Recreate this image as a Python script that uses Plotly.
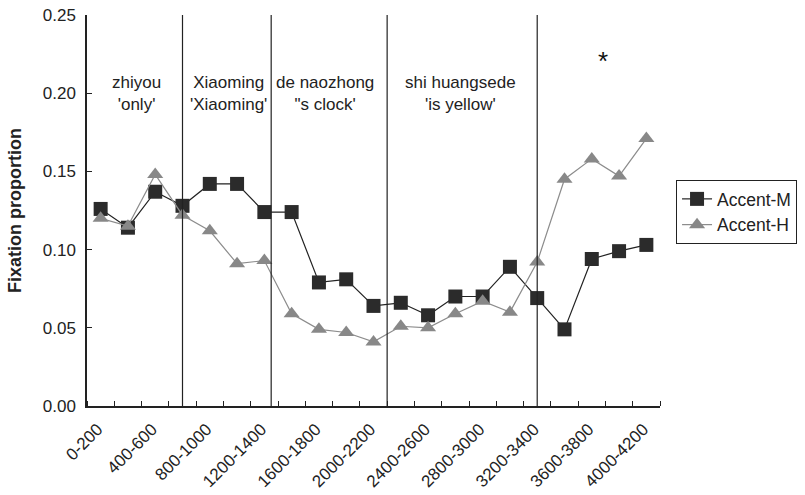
import plotly.graph_objects as go

categories = [f"{i*200}-{i*200+200}" for i in range(21)]
accent_m = [0.126, 0.114, 0.137, 0.128, 0.142, 0.142, 0.124, 0.124, 0.079, 0.081,
            0.064, 0.066, 0.058, 0.070, 0.070, 0.089, 0.069, 0.049, 0.094, 0.099, 0.103]
accent_h = [0.120, 0.115, 0.148, 0.122, 0.112, 0.091, 0.093, 0.059, 0.049, 0.047,
            0.041, 0.051, 0.050, 0.059, 0.067, 0.060, 0.092, 0.145, 0.158, 0.147, 0.171]
region_lines = [3, 6.25, 10.5, 16]
region_labels = ["zhiyou<br>'only'", "Xiaoming<br>'Xiaoming'", "de naozhong<br>\"s clock'",
                 "shi huangsede<br>'is yellow'"]
region_label_x = [1.33, 4.67, 8.22, 13.17]
y_ticks = [0.00, 0.05, 0.10, 0.15, 0.20, 0.25]

FONT = "Liberation Sans, Arial, sans-serif"
FS = 17
xs = list(range(len(categories)))

fig = go.Figure()
fig.add_trace(go.Scatter(
    x=xs, y=accent_m, name="Accent-M", mode="lines+markers",
    line=dict(color="#222222", width=1.2),
    marker=dict(symbol="square", size=14, color="#2b2b2b"),
))
fig.add_trace(go.Scatter(
    x=xs, y=accent_h, name="Accent-H", mode="lines+markers",
    line=dict(color="#8c8c8c", width=1.2),
    marker=dict(symbol="triangle-up", size=14, color="#888888"),
))

for xv in region_lines:
    fig.add_shape(type="line", xref="x", yref="y", x0=xv, x1=xv, y0=0, y1=0.25,
                  line=dict(color="#222222", width=1.2))

for txt, xv in zip(region_labels, region_label_x):
    fig.add_annotation(x=xv, y=0.1995, xref="x", yref="y", text=txt, showarrow=False,
                       font=dict(family=FONT, size=FS, color="#222222"), align="center")

fig.add_annotation(x=18.4, y=0.2205, xref="x", yref="y", text="*", showarrow=False,
                   font=dict(family=FONT, size=26, color="#111111"))

fig.update_layout(
    width=805, height=495,
    margin=dict(l=87, r=145, t=15, b=89, autoexpand=False),
    paper_bgcolor="white", plot_bgcolor="white",
    font=dict(family=FONT, size=FS, color="#222222"),
    showlegend=True,
    legend=dict(x=1.028, y=0.578, xanchor="left", yanchor="top",
                bordercolor="#222222", borderwidth=1, bgcolor="white",
                font=dict(family=FONT, size=FS + 0.5, color="#222222"),
                tracegroupgap=0, itemwidth=30),
    xaxis=dict(
        range=[-0.5, 20.5], tickmode="array",
        tickvals=xs[::2], ticktext=categories[::2],
        tickangle=-45, ticks="", showgrid=False, zeroline=False,
        showline=True, linecolor="#222222", linewidth=1.5, automargin=False,
        tickfont=dict(family=FONT, size=17, color="#222222"),
        ticklabelshift=-3, ticklabelstandoff=5,
        minor=dict(tick0=-0.5, dtick=1, ticks="inside", ticklen=5,
                   tickcolor="#222222", tickwidth=1.2, showgrid=False),
    ),
    yaxis=dict(
        range=[0, 0.25], tickmode="array", tickvals=y_ticks,
        ticktext=[f"{v:.2f}" for v in y_ticks],
        ticks="inside", ticklen=5, tickcolor="#222222", tickwidth=1.2,
        showgrid=False, zeroline=False, automargin=False,
        showline=True, linecolor="#222222", linewidth=1.5,
        tickfont=dict(family=FONT, size=FS, color="#222222"),
        ticklabelstandoff=6,
        title=dict(text="<b>Fixation proportion</b>", standoff=16,
                   font=dict(family=FONT, size=18, color="#222222")),
    ),
)

fig.write_html("out.html")
